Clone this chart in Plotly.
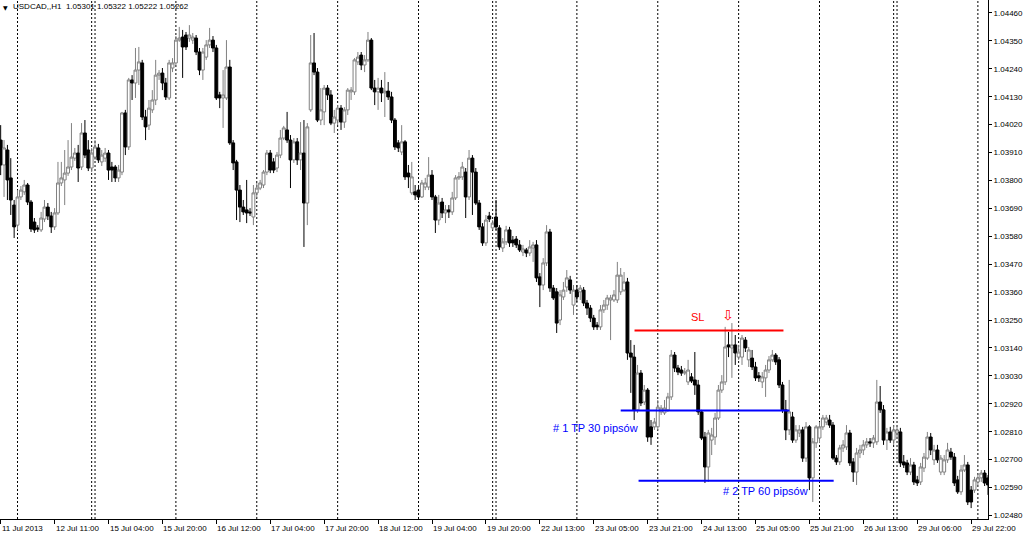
import plotly.graph_objects as go

# ---------------- data (USDCAD H1, bar index 0 = 11 Jul 2013 19:00) ----------------
opens = [
    1.03959, 1.03861, 1.03920, 1.03810, 1.03703, 1.03624, 1.03735, 1.03755, 1.03782, 1.03715,
    1.03636, 1.03613, 1.03605, 1.03648, 1.03695, 1.03660, 1.03617, 1.03672, 1.03790, 1.03802,
    1.03829, 1.03853, 1.03888, 1.03908, 1.03853, 1.03987, 1.03920, 1.03849, 1.03892, 1.03928,
    1.03873, 1.03888, 1.03908, 1.03853, 1.03853, 1.03810, 1.03833, 1.04066, 1.03932, 1.04196,
    1.04184, 1.04235, 1.04263, 1.04050, 1.04018, 1.04078, 1.04117, 1.04215, 1.04223, 1.04184,
    1.04125, 1.04243, 1.04263, 1.04353, 1.04365, 1.04373, 1.04361, 1.04353, 1.04361, 1.04306,
    1.04235, 1.04286, 1.04334, 1.04353, 1.04322, 1.04137, 1.04125, 1.04125, 1.04247, 1.03948,
    1.03873, 1.03762, 1.03695, 1.03684, 1.03676, 1.03656, 1.03751, 1.03770, 1.03782, 1.03833,
    1.03908, 1.03873, 1.03849, 1.03900, 1.03967, 1.03999, 1.03959, 1.03881, 1.03952, 1.03881,
    1.03908, 1.03711, 1.04078, 1.04263, 1.04227, 1.04038, 1.04070, 1.04164, 1.04137, 1.04026,
    1.04038, 1.04085, 1.04030, 1.04078, 1.04149, 1.04149, 1.04267, 1.04294, 1.04255, 1.04275,
    1.04353, 1.04164, 1.04149, 1.04164, 1.04145, 1.04152, 1.04129, 1.04038, 1.03948, 1.03912,
    1.03952, 1.03829, 1.03751, 1.03755, 1.03762, 1.03735, 1.03774, 1.03774, 1.03821, 1.03735,
    1.03644, 1.03715, 1.03672, 1.03684, 1.03676, 1.03731, 1.03810, 1.03814, 1.03833, 1.03735,
    1.03888, 1.03833, 1.03711, 1.03617, 1.03554, 1.03660, 1.03613, 1.03656, 1.03613, 1.03534,
    1.03558, 1.03605, 1.03565, 1.03569, 1.03546, 1.03518, 1.03526, 1.03514, 1.03534, 1.03546,
    1.03420, 1.03388, 1.03475, 1.03597, 1.03376, 1.03361, 1.03250, 1.03341, 1.03380, 1.03408,
    1.03309, 1.03368, 1.03361, 1.03368, 1.03317, 1.03297, 1.03258, 1.03230, 1.03223, 1.03290,
    1.03309, 1.03329, 1.03329, 1.03329, 1.03361, 1.03368, 1.03400, 1.03120, 1.03104, 1.02896,
    1.03041, 1.02927, 1.02974, 1.02829, 1.02829, 1.02829, 1.02888, 1.02884, 1.02896, 1.02947,
    1.03112, 1.03061, 1.03053, 1.03041, 1.03006, 1.03026, 1.03014, 1.02994, 1.02888, 1.02789,
    1.02671, 1.02777, 1.02789, 1.02864, 1.02974, 1.03006, 1.03152, 1.03140, 1.03152, 1.03104,
    1.03104, 1.03171, 1.03093, 1.03100, 1.03065, 1.03030, 1.03006, 1.03022, 1.03053, 1.03093,
    1.03112, 1.03093, 1.02994, 1.02896, 1.02817, 1.02868, 1.02777, 1.02805, 1.02817, 1.02706,
    1.02829, 1.02628, 1.02766, 1.02785, 1.02829, 1.02848, 1.02856, 1.02836, 1.02706, 1.02691,
    1.02746, 1.02750, 1.02805, 1.02691, 1.02651, 1.02726, 1.02738, 1.02758, 1.02770, 1.02766,
    1.02770, 1.02927, 1.02896, 1.02777, 1.02809, 1.02777, 1.02805, 1.02809, 1.02691, 1.02687,
    1.02651, 1.02679, 1.02620, 1.02612, 1.02667, 1.02706, 1.02789, 1.02699, 1.02738, 1.02651,
    1.02651, 1.02699, 1.02730, 1.02710, 1.02620, 1.02573, 1.02659, 1.02679, 1.02580, 1.02580,
    1.02612, 1.02628, 1.02647, 1.02628,
]
highs = [
    1.04018, 1.03959, 1.03940, 1.03888, 1.03723, 1.03762, 1.03778, 1.03802, 1.03790, 1.03723,
    1.03652, 1.03624, 1.03676, 1.03723, 1.03711, 1.03676, 1.03691, 1.03873, 1.03873, 1.03920,
    1.03959, 1.04026, 1.03928, 1.03940, 1.04026, 1.04038, 1.03959, 1.03928, 1.03959, 1.03944,
    1.03920, 1.03928, 1.03920, 1.03873, 1.03861, 1.03861, 1.04070, 1.04078, 1.04204, 1.04215,
    1.04322, 1.04326, 1.04275, 1.04078, 1.04117, 1.04156, 1.04275, 1.04235, 1.04243, 1.04204,
    1.04275, 1.04282, 1.04369, 1.04405, 1.04393, 1.04385, 1.04412, 1.04381, 1.04373, 1.04322,
    1.04322, 1.04353, 1.04401, 1.04369, 1.04334, 1.04149, 1.04235, 1.04353, 1.04275, 1.03959,
    1.03881, 1.03782, 1.03723, 1.03802, 1.03691, 1.03782, 1.03790, 1.03802, 1.03841, 1.03920,
    1.03920, 1.03888, 1.03912, 1.03999, 1.04015, 1.04070, 1.03979, 1.03967, 1.03967, 1.04030,
    1.04038, 1.04026, 1.04373, 1.04381, 1.04243, 1.04164, 1.04176, 1.04176, 1.04156, 1.04078,
    1.04097, 1.04097, 1.04089, 1.04164, 1.04168, 1.04282, 1.04306, 1.04306, 1.04294, 1.04385,
    1.04361, 1.04196, 1.04204, 1.04196, 1.04227, 1.04188, 1.04149, 1.04046, 1.03959, 1.04018,
    1.03959, 1.03861, 1.03873, 1.03782, 1.03782, 1.03802, 1.03810, 1.03892, 1.03841, 1.03743,
    1.03743, 1.03731, 1.03703, 1.03703, 1.03755, 1.03821, 1.03833, 1.03873, 1.03849, 1.03920,
    1.03900, 1.03849, 1.03723, 1.03632, 1.03664, 1.03676, 1.03644, 1.03723, 1.03624, 1.03573,
    1.03621, 1.03617, 1.03581, 1.03581, 1.03565, 1.03546, 1.03534, 1.03565, 1.03558, 1.03565,
    1.03435, 1.03494, 1.03624, 1.03609, 1.03388, 1.03376, 1.03368, 1.03400, 1.03447, 1.03424,
    1.03388, 1.03388, 1.03388, 1.03380, 1.03329, 1.03309, 1.03270, 1.03242, 1.03309, 1.03329,
    1.03349, 1.03349, 1.03368, 1.03479, 1.03455, 1.03439, 1.03416, 1.03171, 1.03152, 1.03073,
    1.03053, 1.02994, 1.02982, 1.02856, 1.02864, 1.02935, 1.02915, 1.02935, 1.02963, 1.03132,
    1.03124, 1.03073, 1.03069, 1.03061, 1.03093, 1.03041, 1.03124, 1.03014, 1.02896, 1.02809,
    1.02817, 1.02825, 1.02884, 1.02994, 1.03033, 1.03223, 1.03203, 1.03238, 1.03191, 1.03152,
    1.03191, 1.03183, 1.03144, 1.03132, 1.03085, 1.03045, 1.03045, 1.03073, 1.03108, 1.03132,
    1.03120, 1.03104, 1.03006, 1.02935, 1.03014, 1.02888, 1.02836, 1.02836, 1.02829, 1.02848,
    1.02836, 1.02785, 1.02836, 1.02848, 1.02876, 1.02876, 1.02876, 1.02848, 1.02718, 1.02758,
    1.02777, 1.02836, 1.02817, 1.02706, 1.02746, 1.02758, 1.02777, 1.02785, 1.02785, 1.02797,
    1.03014, 1.02990, 1.02915, 1.02825, 1.02829, 1.02836, 1.02836, 1.02825, 1.02718, 1.02699,
    1.02706, 1.02691, 1.02636, 1.02687, 1.02726, 1.02809, 1.02805, 1.02758, 1.02758, 1.02718,
    1.02718, 1.02766, 1.02746, 1.02726, 1.02636, 1.02679, 1.02718, 1.02691, 1.02596, 1.02632,
    1.02643, 1.02659, 1.02659, 1.02639,
]
lows = [
    1.03821, 1.03735, 1.03723, 1.03664, 1.03573, 1.03605, 1.03723, 1.03743, 1.03703, 1.03597,
    1.03593, 1.03597, 1.03597, 1.03636, 1.03644, 1.03593, 1.03605, 1.03664, 1.03778, 1.03703,
    1.03818, 1.03841, 1.03877, 1.03794, 1.03841, 1.03888, 1.03837, 1.03833, 1.03881, 1.03869,
    1.03857, 1.03873, 1.03802, 1.03794, 1.03794, 1.03794, 1.03821, 1.03900, 1.03920, 1.04117,
    1.04125, 1.04176, 1.04038, 1.03959, 1.03999, 1.04066, 1.04097, 1.04196, 1.04156, 1.04117,
    1.04117, 1.04227, 1.04255, 1.04346, 1.04204, 1.04314, 1.04346, 1.04338, 1.04294, 1.04215,
    1.04196, 1.04275, 1.04322, 1.04306, 1.04117, 1.04085, 1.04007, 1.04117, 1.03940, 1.03841,
    1.03644, 1.03636, 1.03664, 1.03632, 1.03660, 1.03624, 1.03731, 1.03762, 1.03770, 1.03821,
    1.03829, 1.03829, 1.03833, 1.03888, 1.03959, 1.03948, 1.03770, 1.03869, 1.03861, 1.03841,
    1.03538, 1.03624, 1.04070, 1.04215, 1.04030, 1.04018, 1.04018, 1.04117, 1.04018, 1.03987,
    1.04018, 1.03999, 1.04007, 1.04058, 1.04117, 1.04137, 1.04255, 1.04235, 1.04227, 1.04267,
    1.04156, 1.04097, 1.04078, 1.04109, 1.04050, 1.04117, 1.04026, 1.03920, 1.03912, 1.03900,
    1.03802, 1.03770, 1.03743, 1.03723, 1.03723, 1.03731, 1.03762, 1.03762, 1.03723, 1.03593,
    1.03624, 1.03652, 1.03632, 1.03652, 1.03664, 1.03723, 1.03802, 1.03802, 1.03652, 1.03723,
    1.03664, 1.03703, 1.03605, 1.03542, 1.03542, 1.03636, 1.03605, 1.03605, 1.03526, 1.03518,
    1.03546, 1.03538, 1.03538, 1.03534, 1.03518, 1.03502, 1.03498, 1.03502, 1.03479, 1.03400,
    1.03301, 1.03368, 1.03463, 1.03361, 1.03329, 1.03199, 1.03230, 1.03329, 1.03361, 1.03353,
    1.03270, 1.03321, 1.03329, 1.03305, 1.03270, 1.03242, 1.03211, 1.03211, 1.03211, 1.03278,
    1.03290, 1.03171, 1.03321, 1.03317, 1.03349, 1.03361, 1.03093, 1.02963, 1.02856, 1.02884,
    1.02911, 1.02915, 1.02770, 1.02758, 1.02817, 1.02817, 1.02876, 1.02876, 1.02888, 1.02935,
    1.03045, 1.03033, 1.03030, 1.03033, 1.02994, 1.03002, 1.02955, 1.02876, 1.02777, 1.02608,
    1.02612, 1.02718, 1.02758, 1.02856, 1.02963, 1.02994, 1.03104, 1.03022, 1.03073, 1.03093,
    1.03073, 1.03124, 1.03065, 1.03053, 1.03010, 1.03006, 1.02982, 1.02947, 1.03041, 1.03085,
    1.03073, 1.02982, 1.02884, 1.02777, 1.02797, 1.02766, 1.02766, 1.02789, 1.02691, 1.02691,
    1.02580, 1.02533, 1.02746, 1.02766, 1.02817, 1.02836, 1.02825, 1.02699, 1.02679, 1.02679,
    1.02730, 1.02738, 1.02675, 1.02612, 1.02600, 1.02706, 1.02718, 1.02746, 1.02750, 1.02746,
    1.02758, 1.02884, 1.02758, 1.02738, 1.02766, 1.02758, 1.02789, 1.02671, 1.02667, 1.02639,
    1.02639, 1.02600, 1.02596, 1.02600, 1.02651, 1.02699, 1.02718, 1.02679, 1.02687, 1.02639,
    1.02639, 1.02687, 1.02699, 1.02596, 1.02565, 1.02561, 1.02651, 1.02521, 1.02509, 1.02569,
    1.02600, 1.02612, 1.02596, 1.02561,
]
closes = [
    1.03861, 1.03928, 1.03802, 1.03723, 1.03617, 1.03735, 1.03762, 1.03782, 1.03715, 1.03609,
    1.03605, 1.03609, 1.03652, 1.03695, 1.03660, 1.03617, 1.03672, 1.03790, 1.03810, 1.03829,
    1.03853, 1.03892, 1.03908, 1.03849, 1.03987, 1.03900, 1.03849, 1.03908, 1.03932, 1.03881,
    1.03900, 1.03908, 1.03841, 1.03841, 1.03810, 1.03841, 1.04066, 1.03932, 1.04196, 1.04184,
    1.04235, 1.04267, 1.04050, 1.04011, 1.04085, 1.04117, 1.04215, 1.04223, 1.04184, 1.04129,
    1.04263, 1.04263, 1.04353, 1.04361, 1.04326, 1.04326, 1.04373, 1.04365, 1.04306, 1.04235,
    1.04306, 1.04334, 1.04353, 1.04322, 1.04125, 1.04125, 1.04137, 1.04247, 1.03948, 1.03869,
    1.03762, 1.03695, 1.03676, 1.03672, 1.03672, 1.03751, 1.03770, 1.03790, 1.03833, 1.03908,
    1.03841, 1.03841, 1.03900, 1.03967, 1.04007, 1.03959, 1.03881, 1.03952, 1.03881, 1.03908,
    1.03711, 1.04011, 1.04263, 1.04227, 1.04038, 1.04078, 1.04164, 1.04137, 1.04026, 1.04050,
    1.04085, 1.04030, 1.04078, 1.04156, 1.04156, 1.04275, 1.04286, 1.04255, 1.04275, 1.04353,
    1.04164, 1.04149, 1.04164, 1.04145, 1.04152, 1.04129, 1.04038, 1.03932, 1.03928, 1.03952,
    1.03814, 1.03814, 1.03814, 1.03743, 1.03735, 1.03790, 1.03790, 1.03821, 1.03735, 1.03644,
    1.03711, 1.03672, 1.03684, 1.03676, 1.03731, 1.03810, 1.03814, 1.03853, 1.03735, 1.03888,
    1.03833, 1.03711, 1.03617, 1.03554, 1.03644, 1.03648, 1.03632, 1.03617, 1.03538, 1.03558,
    1.03605, 1.03554, 1.03554, 1.03546, 1.03526, 1.03530, 1.03514, 1.03538, 1.03546, 1.03416,
    1.03388, 1.03475, 1.03597, 1.03376, 1.03337, 1.03238, 1.03349, 1.03368, 1.03416, 1.03368,
    1.03368, 1.03341, 1.03376, 1.03317, 1.03297, 1.03258, 1.03223, 1.03223, 1.03290, 1.03309,
    1.03337, 1.03337, 1.03349, 1.03427, 1.03427, 1.03400, 1.03120, 1.03104, 1.02896, 1.03041,
    1.02923, 1.02974, 1.02789, 1.02789, 1.02848, 1.02907, 1.02903, 1.02903, 1.02947, 1.03112,
    1.03061, 1.03045, 1.03041, 1.03045, 1.03053, 1.03010, 1.02994, 1.02888, 1.02785, 1.02671,
    1.02805, 1.02797, 1.02864, 1.02974, 1.03006, 1.03144, 1.03144, 1.03152, 1.03120, 1.03124,
    1.03179, 1.03140, 1.03132, 1.03065, 1.03022, 1.03022, 1.03026, 1.03053, 1.03093, 1.03112,
    1.03085, 1.02994, 1.02896, 1.02817, 1.02888, 1.02777, 1.02817, 1.02817, 1.02706, 1.02829,
    1.02628, 1.02770, 1.02829, 1.02829, 1.02864, 1.02864, 1.02836, 1.02706, 1.02691, 1.02746,
    1.02758, 1.02805, 1.02687, 1.02651, 1.02726, 1.02738, 1.02758, 1.02770, 1.02766, 1.02785,
    1.02927, 1.02896, 1.02777, 1.02809, 1.02777, 1.02817, 1.02817, 1.02687, 1.02679, 1.02651,
    1.02679, 1.02612, 1.02608, 1.02671, 1.02710, 1.02789, 1.02738, 1.02738, 1.02699, 1.02706,
    1.02699, 1.02738, 1.02710, 1.02608, 1.02573, 1.02659, 1.02679, 1.02533, 1.02533, 1.02620,
    1.02628, 1.02647, 1.02608, 1.02600,
]

# time-axis labels (bar index -> text)
time_tick_bars = [0, 16, 32, 48, 64, 80, 96, 112, 128, 144, 160, 176, 192, 208, 224, 240, 256, 272, 288]
time_tick_labels = ["11 Jul 2013", "12 Jul 11:00", "15 Jul 04:00", "15 Jul 20:00", "16 Jul 12:00",
                    "17 Jul 04:00", "17 Jul 20:00", "18 Jul 12:00", "19 Jul 04:00", "19 Jul 20:00",
                    "22 Jul 13:00", "23 Jul 05:00", "23 Jul 21:00", "24 Jul 13:00", "25 Jul 05:00",
                    "25 Jul 21:00", "26 Jul 13:00", "29 Jul 06:00", "29 Jul 22:00"]
# period separators (first bar of each trading day)
day_breaks = [5, 27, 28, 52, 76, 100, 124, 146, 147, 171, 195, 219, 243, 265, 266, 290]

price_ticks = [1.02480, 1.02590, 1.02700, 1.02810, 1.02920, 1.03030, 1.03140, 1.03250, 1.03360,
               1.03470, 1.03580, 1.03690, 1.03800, 1.03910, 1.04020, 1.04130, 1.04240, 1.04350, 1.04460]

# trade levels
sl_price = 1.03209
tp1_price = 1.02894
tp2_price = 1.02617
sl_span = (188.1, 232.3)
tp1_span = (184.0, 234.1)
tp2_span = (189.3, 247.2)

header_text = "USDCAD,,H1  1.05301 1.05322 1.05222 1.05262"

# ---------------- figure ----------------
bars = list(range(len(closes)))

fig = go.Figure(go.Candlestick(
    x=bars, open=opens, high=highs, low=lows, close=closes,
    increasing=dict(line=dict(color="#808080", width=1), fillcolor="white"),
    decreasing=dict(line=dict(color="black", width=1), fillcolor="black"),
    whiskerwidth=0, hoverinfo="skip",
))

shapes = []
for b in day_breaks:
    shapes.append(dict(type="line", xref="x", yref="paper", x0=b, x1=b, y0=0, y1=1,
                       line=dict(color="black", width=1, dash="2px,2px"), layer="below"))
shapes.append(dict(type="line", xref="x", yref="y", x0=sl_span[0], x1=sl_span[1],
                   y0=sl_price, y1=sl_price, line=dict(color="#FF0000", width=2)))
shapes.append(dict(type="line", xref="x", yref="y", x0=tp1_span[0], x1=tp1_span[1],
                   y0=tp1_price, y1=tp1_price, line=dict(color="#0000FF", width=2)))
shapes.append(dict(type="line", xref="x", yref="y", x0=tp2_span[0], x1=tp2_span[1],
                   y0=tp2_price, y1=tp2_price, line=dict(color="#0000FF", width=2)))

annotations = []
for b, t in zip(time_tick_bars, time_tick_labels):
    annotations.append(dict(x=b, y=0, xref="x", yref="paper", text=t, showarrow=False,
                            xanchor="left", yanchor="top", yshift=-3, xshift=-1,
                            font=dict(family="Liberation Sans", size=8, color="black")))
annotations += [
    dict(x=0, y=1, xref="paper", yref="paper", text="▼", showarrow=False, xanchor="left",
         yanchor="top", xshift=1, yshift=-2, font=dict(family="DejaVu Sans", size=6, color="black")),
    dict(x=0, y=1, xref="paper", yref="paper", text=header_text, showarrow=False, xanchor="left",
         yanchor="top", xshift=11, yshift=0, font=dict(family="Liberation Sans", size=8, color="black")),
    dict(x=206.8, y=1.03262, xref="x", yref="y", text="SL", showarrow=False, xanchor="center",
         yanchor="middle", font=dict(family="Liberation Sans", size=11, color="#FF0000")),
    dict(x=215.7, y=1.03270, xref="x", yref="y", text="⇩", showarrow=False, xanchor="center",
         yanchor="middle", font=dict(family="DejaVu Sans", size=14, color="#FF0000")),
    dict(x=163.8, y=1.02825, xref="x", yref="y", text="# 1 TP 30 pipsów", showarrow=False,
         xanchor="left", yanchor="middle", xshift=-2,
         font=dict(family="Liberation Sans", size=11, color="#0000FF")),
    dict(x=214.5, y=1.02578, xref="x", yref="y", text="# 2 TP 60 pipsów", showarrow=False,
         xanchor="left", yanchor="middle", xshift=-2,
         font=dict(family="Liberation Sans", size=11, color="#0000FF")),
]

fig.update_layout(
    width=1024, height=538,
    margin=dict(l=0, r=36, t=0, b=19),
    paper_bgcolor="white", plot_bgcolor="white",
    showlegend=False, boxgap=0.15, boxgroupgap=0,
    shapes=shapes, annotations=annotations,
    xaxis=dict(range=[-0.2, 293.0], rangeslider=dict(visible=False), showgrid=False,
               zeroline=False, showline=True, linecolor="black", linewidth=1,
               ticks="outside", ticklen=4, tickcolor="black", tickvals=time_tick_bars,
               showticklabels=False, fixedrange=True),
    yaxis=dict(side="right", range=[1.02466, 1.04511], showgrid=False, zeroline=False,
               showline=True, linecolor="black", linewidth=1, ticks="outside", ticklen=3,
               tickcolor="black", tickvals=price_ticks,
               ticktext=[f"{v:.5f}" for v in price_ticks],
               tickfont=dict(family="Liberation Sans", size=8, color="black"), fixedrange=True),
)

fig.write_html("out.html", config={"displayModeBar": False},
               post_script="document.body.style.margin='0px';document.body.style.overflow='hidden';")
